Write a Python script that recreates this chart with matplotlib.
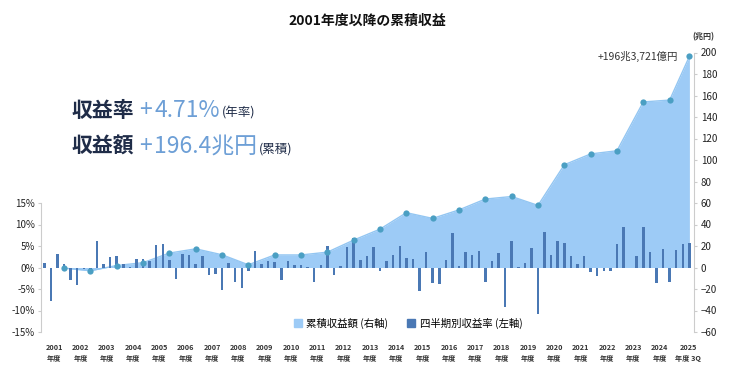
import matplotlib
matplotlib.use('Agg')
import matplotlib.pyplot as plt
from matplotlib.patches import Patch

plt.rcParams['font.family'] = ['Noto Sans CJK JP', 'DejaVu Sans']

# 四半期別収益率 (%), 2001年度1Q 〜 2025年度3Q
quarterly = [
    1.1, -7.9, 3.2, 0.9,     # 2001
    -3.0, -4.1, -0.3, -0.4,  # 2002
    6.2, 0.9, 2.5, 2.6,      # 2003
    0.7, 0.1, 1.9, 1.9,      # 2004
    1.4, 5.2, 5.4, 1.7,      # 2005
    -2.7, 3.2, 3.0, 0.9,     # 2006
    2.7, -1.8, -1.6, -5.3,   # 2007
    1.1, -3.4, -4.7, -0.7,   # 2008
    3.8, 0.9, 1.4, 1.25,     # 2009
    -2.9, 1.4, 0.6, 0.6,     # 2010
    0.2, -3.3, 0.5, 5.0,     # 2011
    -1.8, 0.4, 4.8, 6.8,     # 2012
    1.8, 2.6, 4.7, -0.7,     # 2013
    1.6, 2.8, 5.1, 2.1,      # 2014
    1.9, -5.5, 3.5, -3.6,    # 2015
    -3.8, 1.8, 8.0, 0.3,     # 2016
    3.5, 2.9, 3.9, -3.4,     # 2017
    1.6, 3.4, -9.1, 6.2,     # 2018
    0.1, 1.1, 4.6, -10.7,    # 2019
    8.3, 3.0, 6.2, 5.6,      # 2020
    2.6, 0.9, 2.7, -1.1,     # 2021
    -1.9, -0.9, -0.9, 5.4,   # 2022
    9.4, -0.2, 2.6, 9.5,     # 2023
    3.6, -3.5, 4.2, -3.4,    # 2024
    4.0, 5.5, 5.8,           # 2025 (3Qまで)
]

# 累積収益額 (兆円), 各年度末 (2025年度は3Q末)
years = list(range(2001, 2026))
cumulative = [
    -0.58, -3.03, 1.86, 4.47, 13.43, 17.37, 11.84, 2.51, 11.69, 11.66,
    14.27, 25.49, 35.70, 50.99, 45.66, 53.59, 63.67, 66.05, 57.77, 95.57,
    105.66, 108.60, 154.02, 155.75, 196.37,
]
year_labels = [f'{y}\n年度' for y in years[:-1]] + ['2025\n年度 3Q']

left_ticks = [-15, -10, -5, 0, 5, 10, 15]
right_ticks = list(range(-60, 201, 20))

bar_color = '#4a78b4'
area_color = '#9dcbf6'
point_color = '#4b9fc3'
grey = '#cccccc'

W, H = 742, 373
fig = plt.figure(figsize=(W / 100, H / 100), dpi=100)

rect = [40.7 / W, 1 - 332 / H, (694 - 40.7) / W, (332 - 52.5) / H]
ax2 = fig.add_axes(rect)   # 累積 (右軸)
ax = fig.add_axes(rect)    # 四半期 (左軸)
ax3 = fig.add_axes(rect)   # 点
ax.patch.set_visible(False)
ax3.patch.set_visible(False)

qx = list(range(len(quarterly)))
cx = [4 * k + 3 for k in range(len(cumulative) - 1)] + [len(quarterly) - 1]

ax2.fill_between(cx, cumulative, 0, color=area_color, lw=0)
ax2.plot(cx, cumulative, color='#93c6f2', lw=1)
ax.bar(qx, quarterly, width=0.38, color=bar_color)
ax3.plot(cx, cumulative, 'o', color=point_color, ms=4.5, mec='none')

xlim = (-0.55, 98.7)
for a in (ax, ax2, ax3):
    a.set_xlim(*xlim)
ax.set_ylim(-15, 50)
ax2.set_ylim(-60, 200)
ax3.set_ylim(-60, 200)
ax3.axis('off')

# 左軸
for s in ('top', 'right', 'bottom'):
    ax.spines[s].set_visible(False)
ax.spines['left'].set_bounds(-15, 15)
ax.spines['left'].set_color(grey)
ax.set_yticks(left_ticks)
ax.set_yticklabels([f'{v}%' for v in left_ticks])
ax.tick_params(axis='y', length=2, color=grey, labelsize=7, labelcolor='#222222', pad=2)
ax.set_xticks([4 * k + 1.5 for k in range(len(years) - 1)] + [97.8])
ax.set_xticklabels(year_labels, fontsize=5.2, fontweight='bold', color='#333333', linespacing=1.5)
ax.tick_params(axis='x', length=0, pad=9)

# 右軸
for s in ('top', 'left', 'bottom'):
    ax2.spines[s].set_visible(False)
ax2.spines['right'].set_color(grey)
ax2.yaxis.tick_right()
ax2.set_yticks(right_ticks)
ax2.tick_params(axis='y', length=2, color=grey, labelsize=7, labelcolor='#222222', pad=3)
ax2.set_xticks([])

fig.text(703 / W, 1 - 37 / H, '(兆円)', fontsize=5.8, fontweight='bold', ha='center',
         va='center', color='#333333')

ax3.annotate('+196兆3,721億円', xy=(cx[-1], cumulative[-1]), xytext=(-8, 0),
             textcoords='offset points', ha='right', va='center', fontsize=7.5, color='#333333')

fig.text(367 / W, 1 - 21 / H, '2001年度以降の累積収益', fontsize=10, fontweight='bold',
         ha='center', va='center', color='#111111')

# 大きい見出し
renderer = fig.canvas.get_renderer()
def put_line(x, y, parts):
    for s, size, color, weight, gap in parts:
        t = fig.text(x / W, 1 - y / H, s, fontsize=size, color=color, fontweight=weight,
                     ha='left', va='baseline')
        bb = t.get_window_extent(renderer)
        x = bb.x1 + gap

navy = '#1f2c48'
blue = '#6d9fd6'
put_line(72, 117, [('収益率', 15, navy, 'bold', 5), ('+', 16.5, blue, 'normal', 2),
                   ('4.71%', 16.5, blue, 'normal', 2), ('(年率)', 9, navy, 'normal', 0)])
put_line(72, 153, [('収益額', 15, navy, 'bold', 5), ('+', 16.5, blue, 'normal', 2),
                   ('196.4兆円', 16.5, blue, 'normal', 2), ('(累積)', 9, navy, 'normal', 0)])

handles = [Patch(color=area_color), Patch(color=bar_color)]
fig.legend(handles, ['累積収益額 (右軸)', '四半期別収益率 (左軸)'], ncol=2, frameon=False,
           loc='center', bbox_to_anchor=(408 / W, 1 - 323 / H), fontsize=7.5,
           handlelength=0.8, handleheight=0.8, handletextpad=0.4, columnspacing=1.8)

fig.savefig('out.png', dpi=100)
